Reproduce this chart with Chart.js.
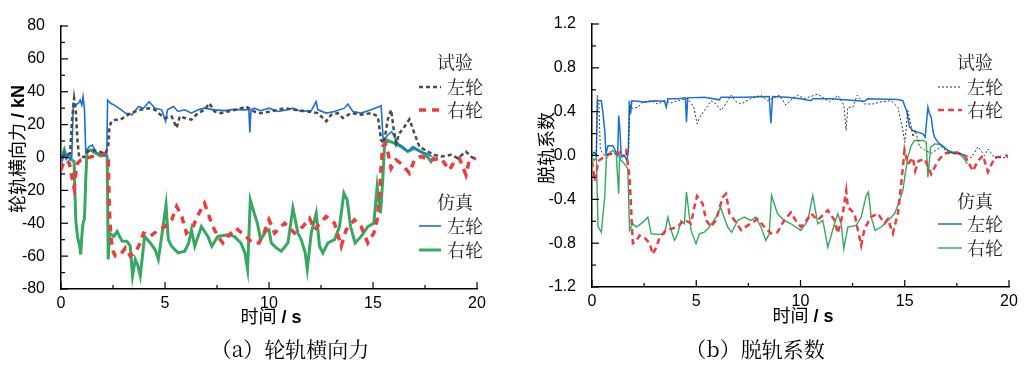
<!DOCTYPE html>
<html>
<head>
<meta charset="utf-8">
<script src="https://cdn.jsdelivr.net/npm/chart.js@4.4.0/dist/chart.umd.min.js"></script>
<style>
  body { margin:0; background:#fff; width:1025px; height:365px; position:relative; overflow:hidden; }
  canvas { position:absolute; top:0; }
  .ytitle, .xtitle, .cap { position:absolute; white-space:nowrap; color:#000; }
  .ytitle { transform:translate(-50%,-50%) rotate(-90deg); font:18px "Noto Sans CJK SC", sans-serif; }
  .xtitle { transform:translate(-50%,-50%); font:18px "Noto Sans CJK SC", sans-serif; }
  .lat { font-family:"Liberation Sans", Arial, sans-serif; font-weight:bold; }
  .cap { transform:translate(-50%,-50%); font:21px "Noto Serif CJK SC", "Noto Sans CJK SC", serif; }
</style>
</head>
<body>
<canvas id="chartA" width="512" height="365" style="left:0"></canvas>
<canvas id="chartB" width="513" height="365" style="left:512px"></canvas>

<div class="ytitle" style="left:16px;top:149px">轮轨横向力<span class="lat"> / kN</span></div>
<div class="xtitle" style="left:271px;top:315px">时间<span class="lat"> / s</span></div>
<div class="cap" style="left:290px;top:348px">（a）轮轨横向力</div>

<div class="ytitle" style="left:545px;top:148px">脱轨系数</div>
<div class="xtitle" style="left:803px;top:314px">时间<span class="lat"> / s</span></div>
<div class="cap" style="left:755px;top:348px">（b）脱轨系数</div>

<script>
// (a) 轮轨横向力 kN — [time s, value]
var testLeftA = [[0,0.6],[0.24,1.6],[0.44,2.6],[0.52,21],[0.63,36],[0.71,29],[0.79,10.6],[0.87,0.6],[1.11,0.2],[1.27,3.6],[1.51,4.6],[1.83,3.6],[2.14,2.6],[2.27,6.6],[2.33,18.7],[2.43,22],[2.62,23],[2.86,23],[3.1,25],[3.33,27],[3.57,28],[3.81,29],[4.21,30],[4.52,29],[4.68,27],[5.0,24],[5.32,25],[5.56,18],[5.71,25],[5.95,24],[6.27,23],[6.59,27],[6.9,29],[7.14,33],[7.38,28],[7.7,27],[8.02,28],[8.49,29.3],[8.89,31],[9.29,28],[9.6,27],[10.08,28],[10.43,29],[10.75,30],[11.23,29],[11.87,28],[12.35,27],[12.75,22],[12.99,26],[13.31,27],[13.55,24],[13.95,27],[14.43,26],[14.91,27],[15.23,25],[15.39,10.6],[15.52,8.6],[15.71,23],[15.87,29],[16.0,16.7],[16.11,8.6],[16.27,14.7],[16.51,18.7],[16.75,23.2],[16.99,14.7],[17.23,6.6],[17.63,3.6],[17.95,1.6],[18.27,0.6],[18.75,1.6],[19.07,-0.4],[19.47,3.6],[19.71,0.6],[19.95,-1.5]];
var testRightA = [[0,-7.6],[0.08,-4.5],[0.24,-1.5],[0.4,-3.5],[0.52,-11.6],[0.63,-18.7],[0.71,-9.6],[0.79,-3.5],[0.95,-1.5],[1.19,-0.4],[1.51,0.6],[1.83,1.6],[2.14,2.6],[2.27,-1.5],[2.32,-29.8],[2.38,-44],[2.46,-56],[2.62,-60],[2.86,-59],[3.1,-55],[3.33,-60],[3.57,-58],[3.81,-52],[3.97,-46],[4.29,-48],[4.68,-44],[5.0,-42],[5.32,-37.9],[5.56,-29.8],[5.79,-35],[6.03,-46],[6.35,-42],[6.59,-35],[6.9,-27.8],[7.1,-35],[7.3,-42],[7.54,-48],[7.78,-52],[8.02,-48],[8.41,-43],[8.81,-47],[9.21,-52],[9.52,-52],[9.76,-46],[10.0,-37.9],[10.27,-46],[10.75,-40],[11.23,-46],[11.63,-42],[11.95,-37],[12.19,-44],[12.75,-35.9],[13.15,-40],[13.47,-54],[13.71,-44],[14.11,-37.9],[14.43,-42],[14.75,-52],[15.04,-46],[15.2,-37.9],[15.31,-23.8],[15.39,-5.5],[15.47,6.6],[15.58,8.6],[15.71,3.6],[15.87,-6.6],[16.11,-1.5],[16.43,-4.5],[16.75,-9.6],[16.99,-1.5],[17.31,0.6],[17.79,-1.5],[18.27,-0.4],[18.67,-7.6],[18.91,-2.5],[19.15,-0.4],[19.47,-10.6],[19.63,-1.5],[19.95,-0.4]];
var simLeftA = [[0,1.6],[0.08,-1.5],[0.16,3.6],[0.24,-0.4],[0.32,1.6],[0.43,-1.5],[0.52,0.6],[0.59,33],[0.71,32],[0.84,33],[0.92,35],[1.0,32],[1.06,37],[1.13,29],[1.19,3.6],[1.35,6.6],[1.51,7.6],[1.67,3.6],[1.9,1.6],[2.14,1],[2.2,1.6],[2.24,35],[2.38,33],[2.54,32],[2.78,30],[3.1,27],[3.41,26],[3.73,31],[3.97,30],[4.24,34],[4.52,30],[4.84,29],[5.03,22],[5.12,29],[5.4,31],[5.63,28],[5.95,29],[6.27,27],[6.59,29],[6.9,30],[7.38,29],[7.86,28.5],[8.33,29.3],[8.8,29],[9.03,29.3],[9.08,15.3],[9.13,29],[9.29,30],[9.6,28.5],[10.0,30],[10.43,28],[10.91,29],[11.15,30],[11.55,28],[12.03,28.5],[12.27,34],[12.35,29],[12.75,27],[13.15,28],[13.63,30],[13.79,32.5],[14.03,28],[14.43,27],[14.91,29],[15.31,31],[15.39,31.5],[15.49,10.6],[15.71,13.7],[15.9,15.7],[16.19,8.6],[16.43,6.6],[16.67,3.6],[16.91,6.6],[17.23,3.6],[17.55,2.6],[17.82,0.6]];
var simRightA = [[0,3.6],[0.08,1.6],[0.16,4.6],[0.27,-0.4],[0.4,1.6],[0.52,-1.5],[0.63,-2.5],[0.71,-37.9],[0.79,-48],[0.9,-54],[0.95,-59],[1.0,-48],[1.06,-40],[1.13,-37],[1.19,-13.6],[1.25,3.6],[1.43,4.6],[1.67,2.6],[1.9,1],[2.14,1.6],[2.22,0.6],[2.27,-62],[2.33,-46],[2.54,-48],[2.7,-45],[2.94,-51],[3.17,-51],[3.33,-54],[3.44,-72],[3.57,-62],[3.7,-66],[3.81,-72],[4.02,-48],[4.29,-52],[4.52,-56],[4.68,-62],[4.84,-48],[5.05,-28.8],[5.16,-50],[5.32,-54],[5.63,-58],[5.95,-57],[6.14,-52],[6.27,-44],[6.43,-54],[6.75,-42],[7.06,-48],[7.25,-54],[7.54,-48],[8.02,-47],[8.33,-48],[8.65,-52],[8.84,-58],[8.97,-68],[9.1,-25.8],[9.29,-33.9],[9.44,-40],[9.6,-50],[9.84,-45],[10.0,-44],[10.11,-52],[10.35,-55],[10.59,-57],[10.91,-52],[11.15,-30.8],[11.39,-46],[11.55,-50],[11.74,-58],[11.84,-68],[12.03,-46],[12.27,-33.9],[12.43,-54],[12.59,-58],[12.83,-52],[13.15,-50],[13.39,-42],[13.6,-21.7],[13.76,-25.8],[13.92,-42],[14.14,-52],[14.43,-48],[14.75,-42],[15.04,-40],[15.2,-17.7],[15.36,-33.9],[15.47,-13.6],[15.55,6.6],[15.68,10.6],[16.03,8.6],[16.35,6.6],[16.67,3.6],[16.99,5.6],[17.31,3.6],[17.63,0.2],[17.79,-2.5],[17.95,0.6]];

// (b) 脱轨系数
var testLeftB = [[0,0],[0.13,0.03],[0.2,0.0],[0.25,0.55],[0.33,0.47],[0.4,0.05],[0.6,0.0],[1.0,0.02],[1.4,0.0],[1.75,0.02],[1.82,0.45],[1.96,0.43],[2.2,0.44],[2.44,0.49],[2.84,0.5],[3.16,0.47],[3.48,0.5],[3.8,0.48],[4.11,0.5],[4.59,0.52],[4.88,0.44],[5.04,0.29],[5.23,0.37],[5.47,0.43],[5.71,0.5],[5.95,0.47],[6.19,0.41],[6.51,0.5],[6.67,0.55],[6.91,0.49],[7.15,0.47],[7.62,0.52],[8.1,0.55],[8.42,0.5],[8.98,0.55],[9.3,0.46],[9.62,0.52],[9.86,0.55],[10.19,0.52],[10.83,0.56],[11.39,0.49],[11.79,0.55],[12.08,0.46],[12.19,0.23],[12.27,0.44],[12.51,0.44],[12.72,0.55],[13.07,0.47],[13.47,0.47],[13.87,0.49],[14.35,0.5],[14.67,0.44],[14.91,0.23],[15.0,0.12],[15.15,0.41],[15.31,0.26],[15.39,0.17],[15.5,0.23],[15.71,0.08],[15.95,0.05],[16.27,0.02],[16.75,0.08],[17.07,0.03],[17.55,0.02],[17.95,0],[18.19,-0.02],[18.51,0.08],[18.83,0],[18.99,0.06],[19.31,-0.02],[19.95,-0.02]];
var testRightB = [[0,-0.05],[0.05,-0.11],[0.13,-0.23],[0.21,-0.17],[0.29,-0.05],[0.53,-0.02],[0.77,0.01],[1.08,0.02],[1.4,0.03],[1.64,0.05],[1.72,-0.08],[1.8,-0.2],[1.85,-0.38],[1.9,-0.59],[1.96,-0.8],[2.12,-0.78],[2.28,-0.73],[2.52,-0.75],[2.76,-0.8],[2.92,-0.9],[3.08,-0.84],[3.24,-0.75],[3.56,-0.68],[3.8,-0.67],[4.11,-0.65],[4.43,-0.59],[4.75,-0.62],[4.91,-0.47],[5.04,-0.37],[5.31,-0.44],[5.47,-0.59],[5.71,-0.65],[5.95,-0.59],[6.27,-0.38],[6.43,-0.35],[6.59,-0.53],[6.83,-0.59],[7.15,-0.68],[7.46,-0.64],[7.94,-0.58],[8.26,-0.65],[8.58,-0.71],[8.9,-0.7],[9.22,-0.59],[9.54,-0.52],[9.86,-0.62],[10.02,-0.65],[10.19,-0.62],[10.51,-0.53],[10.83,-0.59],[11.31,-0.5],[11.63,-0.59],[11.79,-0.71],[12.03,-0.53],[12.19,-0.32],[12.27,-0.47],[12.59,-0.53],[12.75,-0.68],[12.91,-0.82],[13.07,-0.67],[13.39,-0.56],[13.71,-0.53],[14.03,-0.62],[14.19,-0.58],[14.43,-0.71],[14.67,-0.53],[14.83,-0.26],[14.99,0.05],[15.15,-0.08],[15.39,-0.02],[15.5,-0.14],[15.66,-0.05],[15.95,-0.03],[16.27,-0.17],[16.43,-0.11],[16.59,-0.05],[16.91,0.02],[17.39,0.03],[17.87,0],[18.27,-0.14],[18.51,-0.05],[18.75,0],[18.99,-0.15],[19.31,-0.02],[19.95,0]];
var simLeftB = [[0,0.015],[0.1,0.03],[0.21,0],[0.26,0.5],[0.45,0.5],[0.53,0.38],[0.61,0.23],[0.67,0.015],[0.77,0.09],[1.0,0.09],[1.16,0.03],[1.23,0],[1.28,0.365],[1.34,0.23],[1.4,-0.015],[1.56,0],[1.67,-0.046],[1.74,0.03],[1.79,0.5],[1.85,0.38],[1.91,0.5],[2.2,0.495],[2.52,0.486],[3.0,0.5],[3.48,0.495],[3.56,0.44],[3.64,0.517],[4.11,0.517],[4.48,0.526],[4.53,0.304],[4.59,0.526],[5.39,0.532],[6.11,0.508],[6.19,0.532],[7.3,0.532],[8.5,0.538],[8.58,0.295],[8.66,0.538],[9.38,0.532],[10.02,0.517],[10.51,0.5],[10.59,0.517],[11.47,0.517],[13.07,0.495],[13.23,0.517],[14.67,0.51],[14.91,0.5],[15.02,0.44],[15.09,0.41],[15.23,0.258],[15.39,0.228],[15.63,0.213],[15.87,0.198],[15.98,0.167],[16.11,0.44],[16.19,0.38],[16.27,0.35],[16.35,0.228],[16.43,0.167],[16.59,0.122],[16.75,0.091],[17.07,0.046],[17.39,0.015],[17.55,0.03],[17.87,0],[18.03,-0.046]];
var simRightB = [[0,-0.015],[0.1,-0.046],[0.21,-0.015],[0.29,-0.65],[0.45,-0.7],[0.53,-0.53],[0.61,-0.38],[0.69,-0.03],[0.85,0.03],[1.0,0.046],[1.16,0.015],[1.28,-0.35],[1.32,-0.015],[1.4,-0.046],[1.56,-0.076],[1.72,-0.122],[1.8,-0.684],[1.96,-0.623],[2.12,-0.653],[2.44,-0.61],[2.68,-0.562],[2.84,-0.714],[3.16,-0.72],[3.48,-0.714],[3.64,-0.562],[3.8,-0.684],[3.96,-0.775],[4.11,-0.714],[4.27,-0.593],[4.43,-0.623],[4.53,-0.334],[4.75,-0.684],[4.99,-0.805],[5.15,-0.714],[5.39,-0.7],[5.63,-0.653],[5.95,-0.562],[6.16,-0.471],[6.51,-0.653],[6.7,-0.7],[6.99,-0.593],[7.3,-0.562],[7.62,-0.593],[7.86,-0.562],[8.1,-0.653],[8.34,-0.775],[8.5,-0.714],[8.61,-0.365],[8.9,-0.532],[9.22,-0.593],[9.54,-0.623],[10.02,-0.684],[10.35,-0.593],[10.59,-0.365],[10.83,-0.623],[11.07,-0.593],[11.31,-0.836],[11.63,-0.623],[11.79,-0.532],[11.95,-0.623],[12.08,-0.85],[12.27,-0.653],[12.67,-0.638],[12.91,-0.562],[13.15,-0.365],[13.26,-0.334],[13.39,-0.562],[13.58,-0.684],[13.87,-0.653],[14.19,-0.593],[14.51,-0.532],[14.7,-0.44],[14.91,-0.319],[15.02,-0.167],[15.15,-0.015],[15.31,0.091],[15.47,0.137],[15.87,0.137],[16.03,0.122],[16.11,-0.198],[16.24,0.076],[16.43,0.106],[16.75,0.1],[17.07,0.046],[17.31,0.03],[17.55,0.03],[17.79,-0.015],[18.0,-0.076]];

var groupNames = ['试验', '仿真'];
var wheelNames = ['左轮', '右轮'];

var GRAY = '#4a4a4a', RED = '#ee3b40', BLUE = '#1a6fdc', GREEN = '#36a862';
var tickFont = { family: '"Liberation Sans", Arial, sans-serif', size: 16 };
var legendFont = '18px "Noto Serif CJK SC", "Noto Sans CJK SC", serif';

function toXY(arr) {
    return arr.map(function (p) { return { x: p[0], y: p[1] }; });
}

// draws the inward ticks and the two-block legend inside the plot
function makeOverlay(lg) {
    return {
        id: 'overlay',
        afterDraw: function (chart) {
            var ctx = chart.ctx, area = chart.chartArea;
            var xs = chart.scales.x, ys = chart.scales.y;
            ctx.save();
            ctx.strokeStyle = '#000';
            ctx.lineWidth = 1.2;
            function seg(x1, y1, x2, y2) { ctx.beginPath(); ctx.moveTo(x1, y1); ctx.lineTo(x2, y2); ctx.stroke(); }
            xs.ticks.forEach(function (t, i) {
                var px = xs.getPixelForValue(t.value);
                seg(px, area.bottom, px, area.bottom - 7);
                if (i > 0) {
                    var m = xs.getPixelForValue((t.value + xs.ticks[i - 1].value) / 2);
                    seg(m, area.bottom, m, area.bottom - 4);
                }
            });
            ys.ticks.forEach(function (t, i) {
                var py = ys.getPixelForValue(t.value);
                seg(area.left, py, area.left + 7, py);
                if (i > 0) {
                    var m = ys.getPixelForValue((t.value + ys.ticks[i - 1].value) / 2);
                    seg(area.left, m, area.left + 4, m);
                }
            });

            ctx.font = legendFont;
            ctx.fillStyle = '#222';
            ctx.textBaseline = 'middle';
            ctx.textAlign = 'left';
            lg.blocks.forEach(function (b, gi) {
                ctx.fillText(groupNames[gi], lg.titleX, b.titleY);
                b.rows.forEach(function (ry, k) {
                    var ds = chart.data.datasets[gi * 2 + k];
                    ctx.save();
                    ctx.strokeStyle = ds.borderColor;
                    ctx.lineWidth = ds.borderWidth;
                    ctx.setLineDash(ds.borderDash || []);
                    seg(lg.lineX[0], ry, lg.lineX[1], ry);
                    ctx.restore();
                    ctx.fillText(wheelNames[k], lg.textX, ry);
                });
            });
            ctx.restore();
        }
    };
}

function drawChart(id, series, styles, yCfg, box, lg) {
    var datasets = series.map(function (s, i) {
        return {
            data: toXY(s),
            borderColor: styles[i].color,
            borderWidth: styles[i].width,
            borderDash: styles[i].dash,
            pointRadius: 0,
            fill: false,
            tension: 0
        };
    });
    return new Chart(document.getElementById(id), {
        type: 'line',
        data: { datasets: datasets },
        plugins: [makeOverlay(lg)],
        options: {
            responsive: false,
            animation: false,
            layout: { padding: { top: box.top, right: box.right, left: 0, bottom: 0 } },
            plugins: { legend: { display: false }, tooltip: { enabled: false } },
            scales: {
                x: {
                    type: 'linear', min: 0, max: 20,
                    grid: { display: false },
                    border: { color: '#000', width: 1.5 },
                    ticks: { stepSize: 5, padding: -3, color: '#000', font: tickFont, maxRotation: 0 },
                    afterFit: function (s) { s.height = box.xh; }
                },
                y: {
                    min: yCfg.min, max: yCfg.max,
                    grid: { display: false },
                    border: { color: '#000', width: 1.5 },
                    ticks: { stepSize: yCfg.step, padding: 8, color: '#000', font: tickFont, callback: yCfg.fmt },
                    afterFit: function (s) { s.width = box.yw; }
                }
            }
        }
    });
}

drawChart('chartA',
    [testLeftA, testRightA, simLeftA, simRightA],
    [{ color: GRAY, width: 2.5, dash: [4, 3] },
     { color: RED, width: 3.5, dash: [7, 6] },
     { color: BLUE, width: 1.6 },
     { color: GREEN, width: 3 }],
    { min: -80, max: 80, step: 20, fmt: function (v) { return v; } },
    { top: 26, right: 35, xh: 76, yw: 61 },
    { titleX: 437, lineX: [419, 441], textX: 447,
      blocks: [{ titleY: 62, rows: [87, 110] }, { titleY: 202, rows: [226, 250] }] });

drawChart('chartB',
    [testLeftB, testRightB, simLeftB, simRightB],
    [{ color: '#333', width: 1, dash: [2, 2] },
     { color: RED, width: 2.5, dash: [6, 4] },
     { color: BLUE, width: 1.5 },
     { color: GREEN, width: 1.4 }],
    { min: -1.2, max: 1.2, step: 0.4, fmt: function (v) { return Number(v).toFixed(1); } },
    { top: 24, right: 16, xh: 78, yw: 80 },
    { titleX: 445, lineX: [426, 450], textX: 455,
      blocks: [{ titleY: 62, rows: [87, 110] }, { titleY: 201, rows: [224, 248] }] });
</script>
</body>
</html>
